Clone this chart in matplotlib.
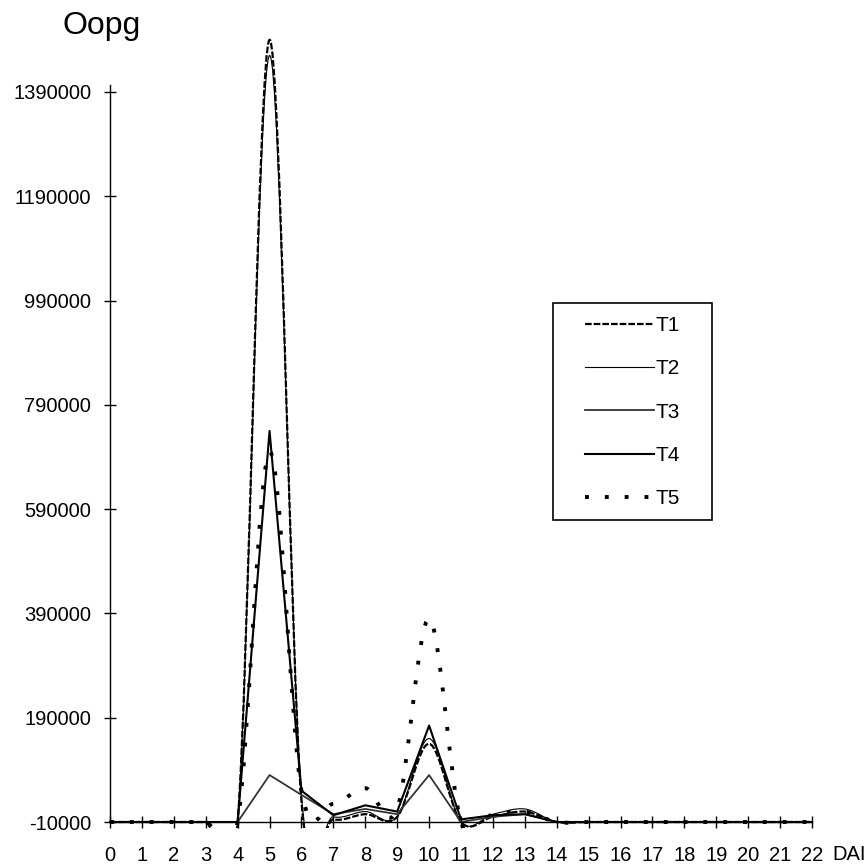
import numpy as np
import matplotlib
matplotlib.use("Agg")
import matplotlib.pyplot as plt
from matplotlib.path import Path
from matplotlib.patches import PathPatch, Rectangle
from matplotlib.lines import Line2D

plt.rcParams["font.family"] = ["Liberation Sans", "DejaVu Sans"]

# --- data ---
days = list(range(23))
base = [-10000] * 9   # days 14..22 sit on the axis

t1 = [-10000, -10000, -10000, -10000, -10000, 1490000, 30000, -5000, 5000,
      0, 140000, -10000, 0, 10000] + base
t2 = [-10000, -10000, -10000, -10000, -10000, 1460000, 40000, 0, 10000,
      0, 150000, -10000, 5000, 15000] + base
t3 = [-10000, -10000, -10000, -10000, -10000, 80000, 42000, 5000, 15000,
      5000, 80000, -10000, 0, 5000] + base
t4 = [-10000, -10000, -10000, -10000, -10000, 740000, 50000, 3000, 22000,
      10000, 175000, -5000, 3000, 5000] + base
t5 = [-10000, -10000, -10000, -10000, -10000, 700000, 50000, 25000, 55000,
      15000, 380000, -10000, 5000, 10000] + base

y_ticks = list(range(-10000, 1390001, 200000))
x_ticks = days

# --- styles ---
STYLES = {
    "T1": dict(lw=1.6, ls=(0, (3.0, 0.9)), color="black", smooth=True),
    "T2": dict(lw=0.8, ls="-", color="black", smooth=True),
    "T3": dict(lw=1.3, ls="-", color="#333333", smooth=False),
    "T4": dict(lw=1.5, ls="-", color="black", smooth=False),
    "T5": dict(lw=2.8, ls=(0, (1.0, 4.1)), color="black", smooth=True),
}


def smooth_path(xs, ys):
    """Excel-style smoothed line as cubic bezier segments."""
    pts = np.column_stack([xs, ys]).astype(float)
    n = len(pts)
    verts = [pts[0]]
    codes = [Path.MOVETO]
    for i in range(n - 1):
        p0 = pts[i - 1] if i > 0 else pts[i]
        p1, p2 = pts[i], pts[i + 1]
        p3 = pts[i + 2] if i + 2 < n else pts[i + 1]
        verts += [p1 + (p2 - p0) / 6, p2 - (p3 - p1) / 6, p2]
        codes += [Path.CURVE4] * 3
    return Path(verts, codes)


fig = plt.figure(figsize=(8.66, 8.66), dpi=100)
ax = fig.add_axes([0.1086, 0.04358, 0.8475, 0.92848])
ax.set_xlim(-0.5, 22.5)
ax.set_ylim(-22000, 1520000)

series = [("T1", t1), ("T2", t2), ("T3", t3), ("T4", t4), ("T5", t5)]
for name, vals in series:
    st = STYLES[name]
    if st["smooth"]:
        patch = PathPatch(smooth_path(days, vals), fill=False,
                          edgecolor=st["color"], lw=st["lw"], ls=st["ls"],
                          transform=ax.transData)
        ax.add_patch(patch)
    else:
        ax.plot(days, vals, color=st["color"], lw=st["lw"], ls=st["ls"])

# axes look: only the two crossing axis lines
for s in ("top", "right"):
    ax.spines[s].set_visible(False)
ax.spines["left"].set_position(("data", 0))
ax.spines["bottom"].set_position(("data", -10000))
ax.spines["left"].set_bounds(-10000, 1403000)
ax.spines["bottom"].set_bounds(0, 22)
for s in ("left", "bottom"):
    ax.spines[s].set_linewidth(1.0)

ax.set_xticks(x_ticks)
ax.set_xticklabels([str(d) for d in x_ticks])
ax.set_yticks(y_ticks)
ax.set_yticklabels([str(v) for v in y_ticks])
ax.tick_params(direction="inout", length=9, width=1.0, labelsize=14.5)
ax.tick_params(axis="x", pad=13)
ax.tick_params(axis="y", pad=9)

fig.text(63 / 866, 1 - 34 / 866, "Oopg", fontsize=23, va="baseline")
fig.text(832 / 866, 1 - 855 / 866, "DAI", fontsize=14.5, va="center")

# legend: entries without frame, frame drawn as a plain box
handles = [Line2D([], [], color=STYLES[n]["color"], lw=STYLES[n]["lw"],
                  ls=STYLES[n]["ls"]) for n, _ in series]
fig.legend(handles, [n for n, _ in series], loc="upper left",
           bbox_to_anchor=(585 / 866, 1 - 316 / 866), frameon=False,
           fontsize=15, handlelength=3.3, handletextpad=0.1,
           labelspacing=1.17, borderpad=0, borderaxespad=0)
fig.patches.append(Rectangle((553 / 866, 1 - 520 / 866), 159 / 866, 217 / 866,
                             transform=fig.transFigure, fill=False,
                             edgecolor="black", lw=1.2))

fig.savefig("out.png", dpi=100)
